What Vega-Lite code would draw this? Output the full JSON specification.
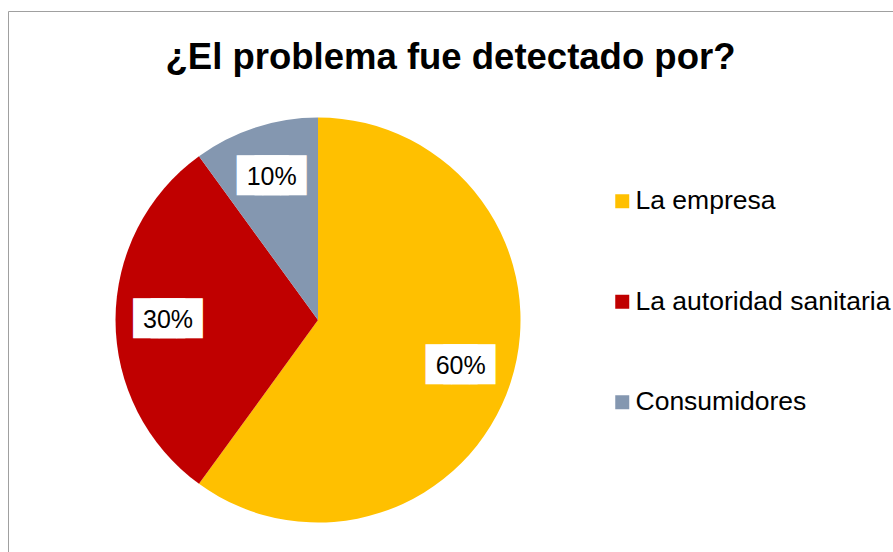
{
  "$schema": "https://vega.github.io/schema/vega-lite/v6.json",
  "width": 885,
  "height": 541,
  "autosize": {"type": "none"},
  "padding": {"left": 8, "top": 11, "right": 0, "bottom": 0},
  "background": "white",
  "config": {
    "view": {"stroke": "#a0a0a0", "strokeWidth": 1},
    "font": "Liberation Sans"
  },
  "title": {
    "text": "¿El problema fue detectado por?",
    "font": "Liberation Sans",
    "fontSize": 36.5,
    "fontWeight": "bold",
    "color": "#000000",
    "anchor": "middle",
    "baseline": "alphabetic",
    "offset": -94
  },
  "data": {
    "values": [
      {"fuente": "La empresa", "pct": 60, "orden": 1, "etiqueta": "60%"},
      {"fuente": "La autoridad sanitaria", "pct": 30, "orden": 2, "etiqueta": "30%"},
      {"fuente": "Consumidores", "pct": 10, "orden": 3, "etiqueta": "10%"}
    ]
  },
  "encoding": {
    "theta": {"field": "pct", "type": "quantitative", "stack": true},
    "order": {"field": "orden", "type": "quantitative"},
    "x": {"datum": 0.3503, "type": "quantitative", "scale": {"domain": [0, 1]}, "axis": null},
    "y": {"datum": 0.5712, "type": "quantitative", "scale": {"domain": [0, 1], "reverse": true}, "axis": null}
  },
  "layer": [
    {
      "mark": {"type": "arc", "outerRadius": 202.5},
      "encoding": {
        "color": {
          "field": "fuente",
          "type": "nominal",
          "scale": {
            "domain": ["La empresa", "La autoridad sanitaria", "Consumidores"],
            "range": ["#FFC000", "#C00000", "#8497B0"]
          },
          "legend": {
            "title": null,
            "orient": "none",
            "legendX": 601,
            "legendY": 177,
            "symbolType": "square",
            "symbolSize": 196,
            "symbolStrokeWidth": 0,
            "symbolOpacity": 1,
            "labelFont": "Liberation Sans",
            "labelFontSize": 26.5,
            "labelColor": "#000000",
            "labelLimit": 400,
            "labelOffset": 0,
            "rowPadding": 73.5
          }
        }
      }
    },
    {
      "mark": {"type": "text", "radius": 150, "text": "██", "font": "DejaVu Sans", "fontSize": 33.5, "color": "#ffffff", "baseline": "middle", "align": "center", "dx": -8.8}
    },
    {
      "mark": {"type": "text", "radius": 150, "text": "██", "font": "DejaVu Sans", "fontSize": 33.5, "color": "#ffffff", "baseline": "middle", "align": "center", "dx": 8.8}
    },
    {
      "mark": {"type": "text", "radius": 150, "font": "Liberation Sans", "fontSize": 25, "color": "#000000", "baseline": "middle", "align": "center"},
      "encoding": {
        "text": {"field": "etiqueta", "type": "nominal"}
      }
    }
  ]
}
